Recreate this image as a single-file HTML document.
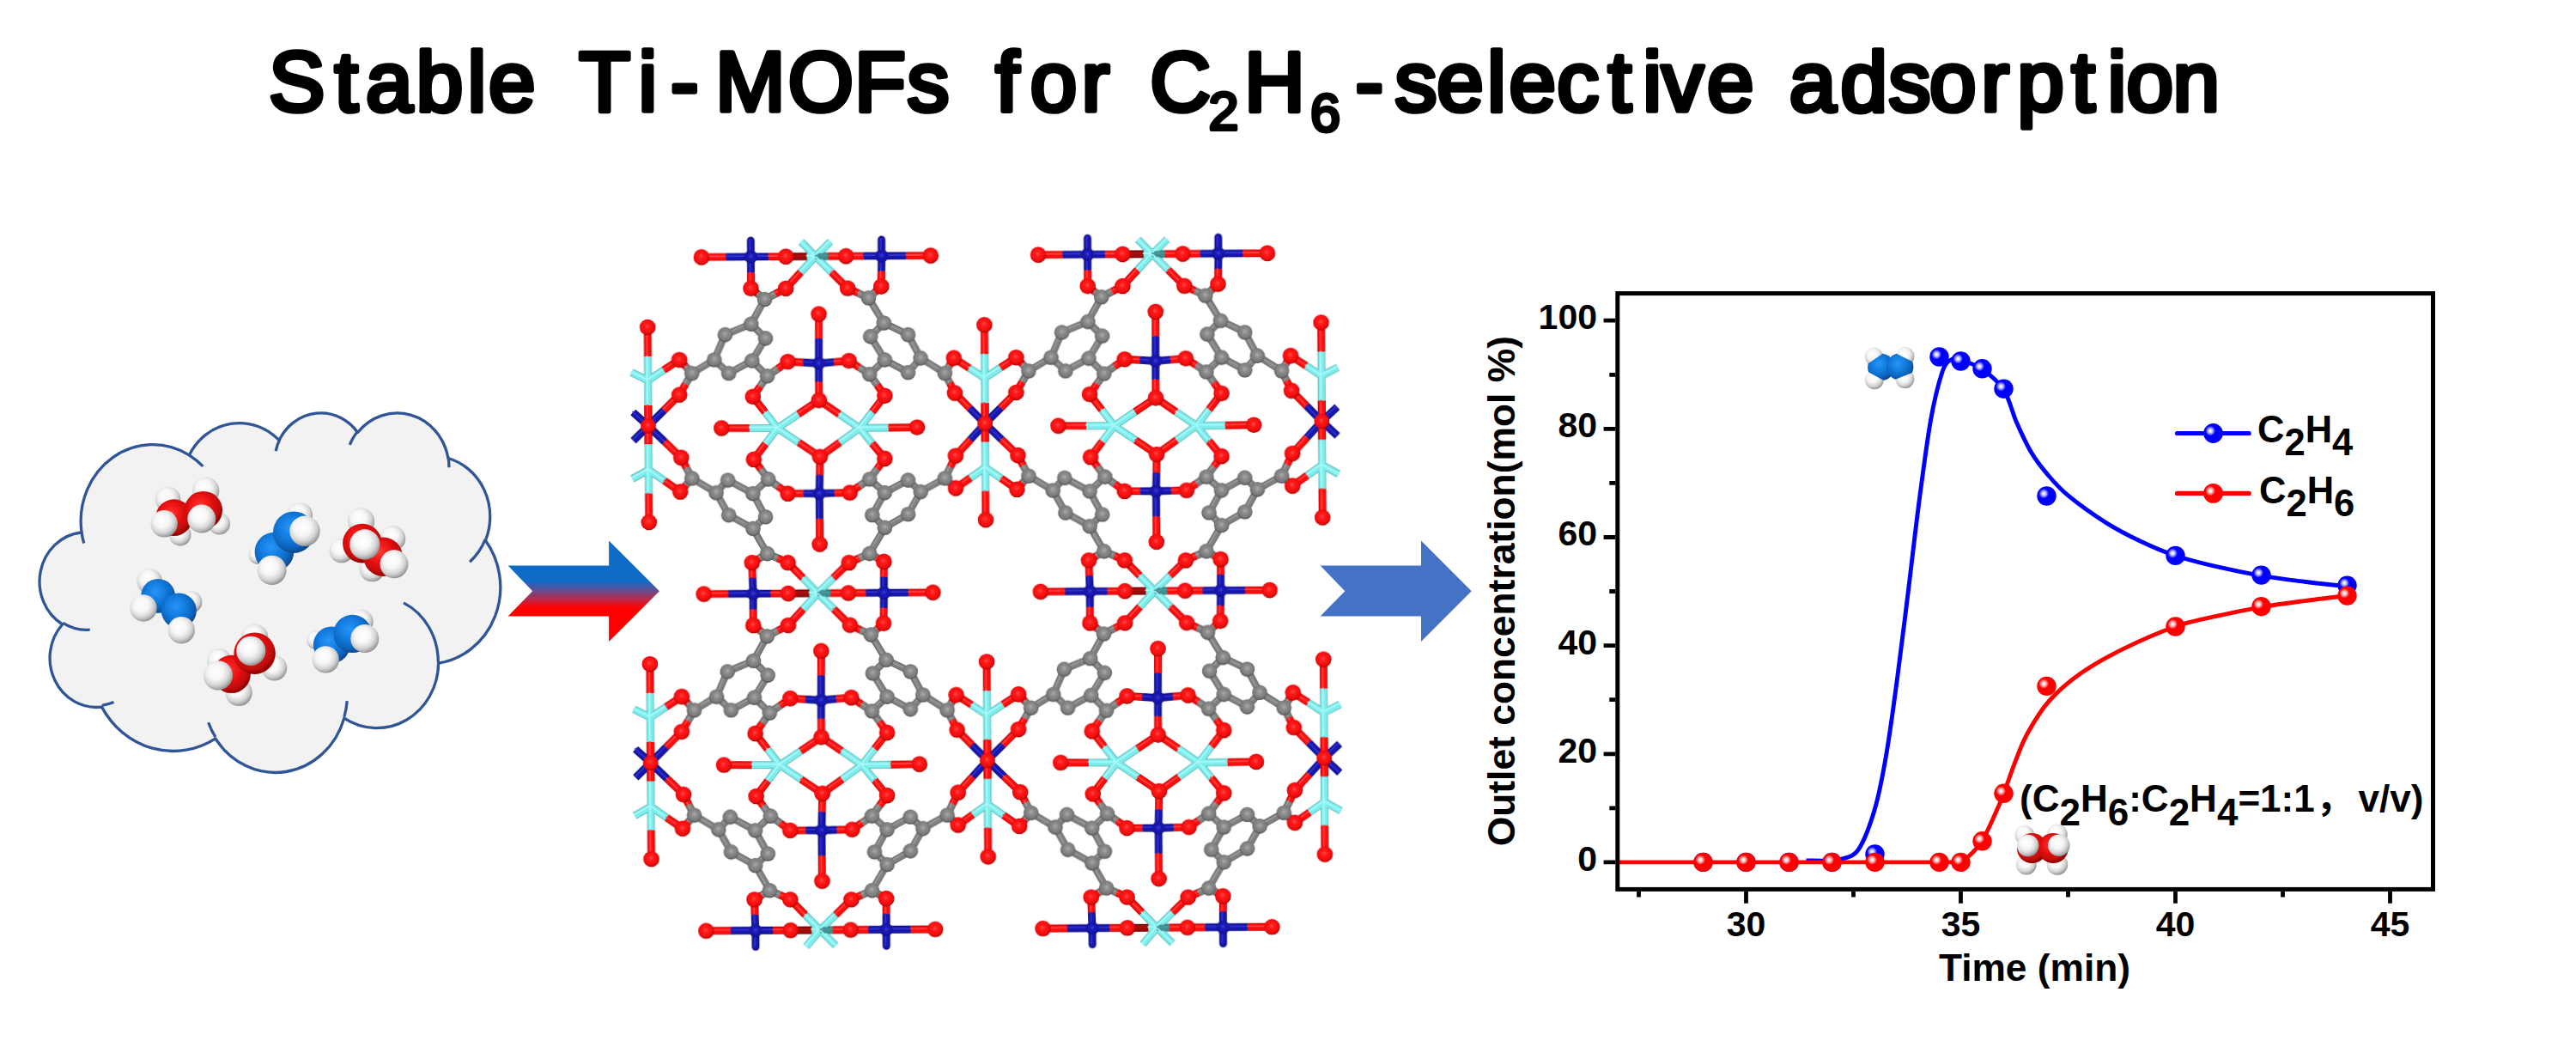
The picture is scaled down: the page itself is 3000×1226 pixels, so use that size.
<!DOCTYPE html>
<html lang="en"><head><meta charset="utf-8"><title>Stable Ti-MOFs for C2H6-selective adsorption</title>
<style>html,body{margin:0;padding:0;background:#fff}body{width:3000px;height:1226px;overflow:hidden}svg{display:block}</style>
</head><body>
<svg width="3000" height="1226" viewBox="0 0 3000 1226">
<defs><linearGradient id="garrow" gradientUnits="userSpaceOnUse" x1="0" y1="629.6" x2="0" y2="747"><stop offset="0.40" stop-color="#0f6cc6"/><stop offset="0.50" stop-color="#6b4a8c"/><stop offset="0.58" stop-color="#b82a4a"/><stop offset="0.66" stop-color="#ff0000"/></linearGradient><radialGradient id="sH" cx="0.42" cy="0.38" r="0.68"><stop offset="0" stop-color="#ffffff"/><stop offset="0.4" stop-color="#f6f6f6"/><stop offset="0.68" stop-color="#d4d4d4"/><stop offset="0.88" stop-color="#a0a0a0"/><stop offset="1" stop-color="#707070"/></radialGradient><radialGradient id="sR" cx="0.42" cy="0.38" r="0.68"><stop offset="0" stop-color="#ff3a3a"/><stop offset="0.35" stop-color="#f01414"/><stop offset="0.7" stop-color="#c60a0a"/><stop offset="1" stop-color="#7a0000"/></radialGradient><radialGradient id="sB" cx="0.42" cy="0.38" r="0.68"><stop offset="0" stop-color="#2a95f5"/><stop offset="0.35" stop-color="#1480e4"/><stop offset="0.7" stop-color="#0c66c0"/><stop offset="1" stop-color="#063c7c"/></radialGradient><radialGradient id="aO" cx="0.47" cy="0.44" r="0.58"><stop offset="0" stop-color="#ff4a4a"/><stop offset="0.3" stop-color="#ff1a1a"/><stop offset="0.72" stop-color="#f20c0c"/><stop offset="0.9" stop-color="#c40404"/><stop offset="1" stop-color="#8a0000"/></radialGradient><radialGradient id="aC" cx="0.5" cy="0.44" r="0.58"><stop offset="0" stop-color="#acacac"/><stop offset="0.3" stop-color="#8e8e8e"/><stop offset="0.72" stop-color="#7a7a7a"/><stop offset="0.9" stop-color="#5c5c5c"/><stop offset="1" stop-color="#3c3c3c"/></radialGradient><radialGradient id="aN" cx="0.5" cy="0.46" r="0.58"><stop offset="0" stop-color="#4040e0"/><stop offset="0.3" stop-color="#1c1cb8"/><stop offset="0.75" stop-color="#1414a4"/><stop offset="1" stop-color="#08086c"/></radialGradient><radialGradient id="mB" cx="0.355" cy="0.375" r="0.75"><stop offset="0" stop-color="#ffffff"/><stop offset="0.08" stop-color="#e8e8ff"/><stop offset="0.2" stop-color="#9090ff"/><stop offset="0.34" stop-color="#0000ff"/><stop offset="1" stop-color="#0000ff"/></radialGradient><radialGradient id="mR" cx="0.355" cy="0.375" r="0.75"><stop offset="0" stop-color="#ffffff"/><stop offset="0.08" stop-color="#ffe8e8"/><stop offset="0.2" stop-color="#ff9090"/><stop offset="0.34" stop-color="#ff0000"/><stop offset="1" stop-color="#ff0000"/></radialGradient><filter id="blur1" x="-2%" y="-2%" width="104%" height="104%"><feGaussianBlur stdDeviation="0.65"/></filter><filter id="blur2" x="-5%" y="-5%" width="110%" height="110%"><feGaussianBlur stdDeviation="0.7"/></filter></defs>
<rect width="3000" height="1226" fill="#fff"/>
<text font-family="'Liberation Sans',sans-serif" font-weight="400" fill="#000" stroke="#000" stroke-width="5.6" stroke-linejoin="round" stroke-linecap="round" xml:space="preserve"><tspan x="313.1 389.8 425.9 484.7 544.4 569.1" y="129.2" font-size="98">Stable </tspan><tspan x="674.3 743.4 781 832.9 917.7 995.1 1056.6" y="129.2" font-size="98">Ti-MOFs </tspan><tspan x="1159.5 1199.8 1259.4" y="129.2" font-size="98">for </tspan><tspan x="1339.3" y="129.2" font-size="98">C</tspan><tspan x="1407.6" y="151" font-size="63" stroke-width="4">2</tspan><tspan x="1449.1" y="129.2" font-size="98">H</tspan><tspan x="1526.1" y="152.5" font-size="63" stroke-width="4">6</tspan><tspan x="1578.4 1624.5 1673.3 1732 1757.6 1813.2 1872.8 1913.3 1935.1 1987.9" y="129.2" font-size="98">-selective </tspan><tspan x="2083.7 2143.6 2199.6 2247.1 2307.3 2349.2 2412.6 2454.4 2476.4 2530.4" y="129.2" font-size="98">adsorption</tspan></text>
<path d="M94.9 618.7A83.8 89.0 0 0 1 220.3 529.9A66.2 70.4 0 0 1 325.1 512.7A54.2 57.6 0 0 1 416.6 503.5A60.3 63.9 0 0 1 521.9 533.5A66.2 70.5 0 0 1 565.4 629.3A84.1 89.3 0 0 1 510.6 772.1A71.8 76.2 0 0 1 400.8 836.1A83.8 89.3 0 0 1 251.0 859.9A95.8 102.1 0 0 1 118.5 823.1A54.1 57.3 0 0 1 72.7 727.0A53.9 57.6 0 0 1 94.4 620.0Z" fill="#f2f2f2" stroke="#2f5597" stroke-width="3.3" stroke-linejoin="round"/><path d="M104.7 733.1A53.9 57.6 0 0 1 73.3 725.4M132.5 817.6A54.1 57.3 0 0 1 118.7 821.3M250.9 858.2A83.8 89.3 0 0 1 242.7 841.3M404.2 816.2A83.8 89.3 0 0 1 400.9 834.6M470.0 701.9A71.8 76.2 0 0 1 510.3 771.0M565.1 628.2A66.2 70.5 0 0 1 547.1 654.2M522.0 532.1A60.3 63.9 0 0 1 522.9 544.3M407.3 517.8A60.3 63.9 0 0 1 416.5 502.2M321.2 525.2A54.2 57.6 0 0 1 325.7 511.8M220.2 529.8A83.8 89.0 0 0 1 236.3 542.9M97.7 632.5A83.8 89.0 0 0 1 94.9 618.7" fill="none" stroke="#2f5597" stroke-width="3.3" stroke-linecap="butt"/>
<path d="M591.6 658.6L709.1 658.6L709.1 629.6L768 688.3L709.1 747L709.1 717.4L591.6 717.4L620.2 688.3Z" fill="url(#garrow)"/><path d="M1537.6 658.6L1655 658.6L1655 629.6L1713.7 688.3L1655 747L1655 717.4L1537.6 717.4L1566.3 688.3Z" fill="#4472c4"/>
<g filter="url(#blur2)"><circle cx="195.5" cy="581.3" r="14.8" fill="url(#sH)"/><circle cx="239.7" cy="571.3" r="15.7" fill="url(#sH)"/><circle cx="255.3" cy="609.8" r="12.8" fill="url(#sH)"/><circle cx="209.7" cy="622.6" r="12.8" fill="url(#sH)"/><circle cx="202.6" cy="602.7" r="21.4" fill="url(#sR)"/><circle cx="236.8" cy="594.1" r="22.2" fill="url(#sR)"/><circle cx="191.2" cy="609.8" r="15.7" fill="url(#sH)"/><circle cx="234.8" cy="604.1" r="16.5" fill="url(#sH)"/><circle cx="349.3" cy="599.8" r="14.8" fill="url(#sH)"/><circle cx="300.3" cy="646.0" r="10.8" fill="url(#sH)"/><circle cx="319.4" cy="642.5" r="22.8" fill="url(#sB)"/><circle cx="342.2" cy="619.7" r="24.2" fill="url(#sB)"/><circle cx="355.0" cy="618.3" r="17.7" fill="url(#sH)"/><circle cx="316.6" cy="663.9" r="17.1" fill="url(#sH)"/><circle cx="420.5" cy="606.9" r="15.7" fill="url(#sH)"/><circle cx="457.5" cy="626.9" r="14.8" fill="url(#sH)"/><circle cx="397.7" cy="641.1" r="14.2" fill="url(#sH)"/><circle cx="433.3" cy="662.5" r="14.8" fill="url(#sH)"/><circle cx="421.9" cy="632.6" r="22.8" fill="url(#sR)"/><circle cx="446.1" cy="648.2" r="22.8" fill="url(#sR)"/><circle cx="424.8" cy="634.0" r="17.7" fill="url(#sH)"/><circle cx="459.0" cy="656.8" r="16.5" fill="url(#sH)"/><circle cx="174.1" cy="676.7" r="14.8" fill="url(#sH)"/><circle cx="222.6" cy="700.9" r="12.8" fill="url(#sH)"/><circle cx="184.1" cy="693.8" r="19.9" fill="url(#sB)"/><circle cx="208.3" cy="710.9" r="20.5" fill="url(#sB)"/><circle cx="167.0" cy="708.0" r="15.7" fill="url(#sH)"/><circle cx="211.2" cy="733.7" r="15.7" fill="url(#sH)"/><circle cx="296.6" cy="742.2" r="15.7" fill="url(#sH)"/><circle cx="255.3" cy="769.3" r="14.2" fill="url(#sH)"/><circle cx="319.4" cy="777.8" r="14.8" fill="url(#sH)"/><circle cx="278.1" cy="806.3" r="15.7" fill="url(#sH)"/><circle cx="269.6" cy="784.9" r="22.2" fill="url(#sR)"/><circle cx="296.6" cy="760.7" r="24.2" fill="url(#sR)"/><circle cx="292.3" cy="757.9" r="17.1" fill="url(#sH)"/><circle cx="253.9" cy="786.4" r="17.1" fill="url(#sH)"/><circle cx="420.5" cy="723.7" r="14.2" fill="url(#sH)"/><circle cx="367.8" cy="745.1" r="10.8" fill="url(#sH)"/><circle cx="386.3" cy="750.8" r="21.4" fill="url(#sB)"/><circle cx="410.5" cy="737.9" r="22.2" fill="url(#sB)"/><circle cx="424.8" cy="743.6" r="16.5" fill="url(#sH)"/><circle cx="379.2" cy="767.9" r="15.7" fill="url(#sH)"/></g>
<g transform="translate(951.1 494.6) rotate(-0.4)" filter="url(#blur1)"><defs><g id="cell"><path d="M3.4 -128.9L3.2 -100.2M2.9 -50.0L2.9 -28.6M3.6 37.2L3.1 58.6M2.6 109.5L2.6 139.0M2.9 -28.6L-21.4 -12.5M3.6 37.2L-21.0 20.4M2.9 -28.6L26.5 -12.2M3.6 37.2L26.9 20.7M-78.2 3.4L-110.8 3.1M83.5 4.0L116.9 3.7M-15.0 -72.7L-33.0 -73.8M-59.8 -14.9L-74.0 -33.3M-45.0 -65.5L-33.0 -73.8M-65.5 -45.3L-74.0 -33.3M-67.5 -152.9L-75.5 -159.3M-47.1 -152.8L-34.8 -159.0M-152.1 -68.9L-159.4 -76.8M-152.3 -48.5L-159.7 -36.0M20.6 -72.9L38.1 -74.3M64.8 -14.5L79.5 -33.3M50.1 -66.4L38.1 -74.3M70.8 -45.9L79.5 -33.3M68.9 -153.9L76.3 -160.6M49.4 -153.0L37.2 -158.7M155.0 -67.8L160.3 -76.6M155.4 -47.4L161.1 -35.9M-15.7 79.9L-34.1 79.8M-59.6 21.7L-73.5 39.8M-45.5 71.3L-34.1 79.8M-65.2 51.3L-73.5 39.8M-67.5 154.8L-76.4 160.0M-46.6 154.9L-34.6 160.3M-151.9 49.2L-158.1 37.1M-152.6 69.0L-159.4 76.8M20.3 79.6L38.0 79.3M64.5 22.1L79.0 39.9M49.6 71.5L38.0 79.3M70.1 51.8L79.0 39.9M68.9 155.2L77.2 159.9M48.5 155.6L36.5 160.8M155.3 50.3L161.6 37.2M155.1 69.1L161.4 74.9" stroke="#c00000" stroke-width="8.9" stroke-linecap="butt" fill="none"/><path d="M3.2 -100.2L3.0 -71.5M3.0 -71.5L2.9 -50.0M3.1 58.6L2.6 80.0M2.6 80.0L2.6 109.5M3.0 -71.5L-15.0 -72.7M3.0 -71.5L20.6 -72.9M2.6 80.0L-15.7 79.9M2.6 80.0L20.3 79.6" stroke="#0a0a7c" stroke-width="8.9" stroke-linecap="butt" fill="none"/><path d="M-21.4 -12.5L-45.6 3.6M-21.0 20.4L-45.6 3.6M26.5 -12.2L50.1 4.2M26.9 20.7L50.1 4.2M-45.6 3.6L-78.2 3.4M50.1 4.2L83.5 4.0M-45.6 3.6L-59.8 -14.9M50.1 4.2L64.8 -14.5M-45.6 3.6L-59.6 21.7M50.1 4.2L64.5 22.1" stroke="#58b8b8" stroke-width="8.9" stroke-linecap="butt" fill="none"/><path d="M-57.1 -57.2L-45.0 -65.5M-57.1 -57.2L-65.5 -45.3M-59.5 -146.5L-67.5 -152.9M-59.5 -146.5L-47.1 -152.8M-144.9 -61.0L-152.1 -68.9M-144.9 -61.0L-152.3 -48.5M62.0 -58.5L50.1 -66.4M62.0 -58.5L70.8 -45.9M61.5 -147.3L68.9 -153.9M61.5 -147.3L49.4 -153.0M149.7 -59.0L155.0 -67.8M149.7 -59.0L155.4 -47.4M-56.9 62.9L-45.5 71.3M-56.9 62.9L-65.2 51.3M-58.5 149.6L-67.5 154.8M-58.5 149.6L-46.6 154.9M-145.7 61.3L-151.9 49.2M-145.7 61.3L-152.6 69.0M61.2 63.7L49.6 71.5M61.2 63.7L70.1 51.8M60.6 150.4L68.9 155.2M60.6 150.4L48.5 155.6M148.9 63.3L155.3 50.3M148.9 63.3L155.1 69.1" stroke="#5e5e5e" stroke-width="8.9" stroke-linecap="butt" fill="none"/><path d="M-57.1 -57.2L-65.9 -66.2M-65.9 -66.2L-74.8 -75.1M-74.8 -75.1L-66.8 -88.1M-66.8 -88.1L-58.9 -101.1M-58.9 -101.1L-67.2 -109.5M-67.2 -109.5L-75.5 -117.9M-75.5 -117.9L-90.7 -111.8M-90.7 -111.8L-105.9 -105.6M-105.9 -105.6L-112.3 -91.1M-112.3 -91.1L-118.7 -76.5M-118.7 -76.5L-110.3 -68.6M-110.3 -68.6L-102.0 -60.7M-102.0 -60.7L-88.4 -67.9M-88.4 -67.9L-74.8 -75.1M-75.5 -117.9L-67.5 -132.2M-67.5 -132.2L-59.5 -146.5M-118.7 -76.5L-131.8 -68.8M-131.8 -68.8L-144.9 -61.0M62.0 -58.5L70.9 -66.8M70.9 -66.8L79.8 -75.1M79.8 -75.1L71.6 -88.8M71.6 -88.8L63.3 -102.4M63.3 -102.4L71.2 -110.2M71.2 -110.2L79.1 -118.0M79.1 -118.0L93.2 -111.1M93.2 -111.1L107.2 -104.2M107.2 -104.2L114.4 -90.5M114.4 -90.5L121.6 -76.9M121.6 -76.9L114.3 -68.6M114.3 -68.6L106.9 -60.3M106.9 -60.3L93.4 -67.7M93.4 -67.7L79.8 -75.1M79.1 -118.0L70.3 -132.6M70.3 -132.6L61.5 -147.3M121.6 -76.9L135.7 -67.9M135.7 -67.9L149.7 -59.0M-56.9 62.9L-65.8 71.2M-65.8 71.2L-74.8 79.5M-74.8 79.5L-67.6 93.1M-67.6 93.1L-60.3 106.8M-60.3 106.8L-67.7 113.5M-67.7 113.5L-75.0 120.3M-75.0 120.3L-89.1 112.3M-89.1 112.3L-103.1 104.4M-103.1 104.4L-110.4 91.3M-110.4 91.3L-117.6 78.2M-117.6 78.2L-110.8 70.9M-110.8 70.9L-103.9 63.7M-103.9 63.7L-89.4 71.6M-89.4 71.6L-74.8 79.5M-75.0 120.3L-66.8 134.9M-66.8 134.9L-58.5 149.6M-117.6 78.2L-131.7 69.7M-131.7 69.7L-145.7 61.3M61.2 63.7L70.0 71.6M70.0 71.6L78.7 79.6M78.7 79.6L71.4 92.6M71.4 92.6L64.0 105.5M64.0 105.5L71.2 112.9M71.2 112.9L78.5 120.3M78.5 120.3L92.1 112.5M92.1 112.5L105.8 104.7M105.8 104.7L113.2 91.7M113.2 91.7L120.6 78.7M120.6 78.7L113.3 71.9M113.3 71.9L106.0 65.1M106.0 65.1L92.4 72.3M92.4 72.3L78.7 79.6M78.5 120.3L69.5 135.3M69.5 135.3L60.6 150.4M120.6 78.7L134.7 71.0M134.7 71.0L148.9 63.3" stroke="#5e5e5e" stroke-width="8.2" stroke-linecap="butt" fill="none"/><path d="M3.4 -128.9L3.2 -100.2M2.9 -50.0L2.9 -28.6M3.6 37.2L3.1 58.6M2.6 109.5L2.6 139.0M2.9 -28.6L-21.4 -12.5M3.6 37.2L-21.0 20.4M2.9 -28.6L26.5 -12.2M3.6 37.2L26.9 20.7M-78.2 3.4L-110.8 3.1M83.5 4.0L116.9 3.7M-15.0 -72.7L-33.0 -73.8M-59.8 -14.9L-74.0 -33.3M-45.0 -65.5L-33.0 -73.8M-65.5 -45.3L-74.0 -33.3M-67.5 -152.9L-75.5 -159.3M-47.1 -152.8L-34.8 -159.0M-152.1 -68.9L-159.4 -76.8M-152.3 -48.5L-159.7 -36.0M20.6 -72.9L38.1 -74.3M64.8 -14.5L79.5 -33.3M50.1 -66.4L38.1 -74.3M70.8 -45.9L79.5 -33.3M68.9 -153.9L76.3 -160.6M49.4 -153.0L37.2 -158.7M155.0 -67.8L160.3 -76.6M155.4 -47.4L161.1 -35.9M-15.7 79.9L-34.1 79.8M-59.6 21.7L-73.5 39.8M-45.5 71.3L-34.1 79.8M-65.2 51.3L-73.5 39.8M-67.5 154.8L-76.4 160.0M-46.6 154.9L-34.6 160.3M-151.9 49.2L-158.1 37.1M-152.6 69.0L-159.4 76.8M20.3 79.6L38.0 79.3M64.5 22.1L79.0 39.9M49.6 71.5L38.0 79.3M70.1 51.8L79.0 39.9M68.9 155.2L77.2 159.9M48.5 155.6L36.5 160.8M155.3 50.3L161.6 37.2M155.1 69.1L161.4 74.9" stroke="#ff0d0d" stroke-width="7.1" stroke-linecap="butt" fill="none"/><path d="M3.2 -100.2L3.0 -71.5M3.0 -71.5L2.9 -50.0M3.1 58.6L2.6 80.0M2.6 80.0L2.6 109.5M3.0 -71.5L-15.0 -72.7M3.0 -71.5L20.6 -72.9M2.6 80.0L-15.7 79.9M2.6 80.0L20.3 79.6" stroke="#1616ac" stroke-width="7.1" stroke-linecap="butt" fill="none"/><path d="M-21.4 -12.5L-45.6 3.6M-21.0 20.4L-45.6 3.6M26.5 -12.2L50.1 4.2M26.9 20.7L50.1 4.2M-45.6 3.6L-78.2 3.4M50.1 4.2L83.5 4.0M-45.6 3.6L-59.8 -14.9M50.1 4.2L64.8 -14.5M-45.6 3.6L-59.6 21.7M50.1 4.2L64.5 22.1" stroke="#7fecec" stroke-width="7.1" stroke-linecap="butt" fill="none"/><path d="M-57.1 -57.2L-45.0 -65.5M-57.1 -57.2L-65.5 -45.3M-59.5 -146.5L-67.5 -152.9M-59.5 -146.5L-47.1 -152.8M-144.9 -61.0L-152.1 -68.9M-144.9 -61.0L-152.3 -48.5M62.0 -58.5L50.1 -66.4M62.0 -58.5L70.8 -45.9M61.5 -147.3L68.9 -153.9M61.5 -147.3L49.4 -153.0M149.7 -59.0L155.0 -67.8M149.7 -59.0L155.4 -47.4M-56.9 62.9L-45.5 71.3M-56.9 62.9L-65.2 51.3M-58.5 149.6L-67.5 154.8M-58.5 149.6L-46.6 154.9M-145.7 61.3L-151.9 49.2M-145.7 61.3L-152.6 69.0M61.2 63.7L49.6 71.5M61.2 63.7L70.1 51.8M60.6 150.4L68.9 155.2M60.6 150.4L48.5 155.6M148.9 63.3L155.3 50.3M148.9 63.3L155.1 69.1" stroke="#808080" stroke-width="7.1" stroke-linecap="butt" fill="none"/><path d="M-57.1 -57.2L-65.9 -66.2M-65.9 -66.2L-74.8 -75.1M-74.8 -75.1L-66.8 -88.1M-66.8 -88.1L-58.9 -101.1M-58.9 -101.1L-67.2 -109.5M-67.2 -109.5L-75.5 -117.9M-75.5 -117.9L-90.7 -111.8M-90.7 -111.8L-105.9 -105.6M-105.9 -105.6L-112.3 -91.1M-112.3 -91.1L-118.7 -76.5M-118.7 -76.5L-110.3 -68.6M-110.3 -68.6L-102.0 -60.7M-102.0 -60.7L-88.4 -67.9M-88.4 -67.9L-74.8 -75.1M-75.5 -117.9L-67.5 -132.2M-67.5 -132.2L-59.5 -146.5M-118.7 -76.5L-131.8 -68.8M-131.8 -68.8L-144.9 -61.0M62.0 -58.5L70.9 -66.8M70.9 -66.8L79.8 -75.1M79.8 -75.1L71.6 -88.8M71.6 -88.8L63.3 -102.4M63.3 -102.4L71.2 -110.2M71.2 -110.2L79.1 -118.0M79.1 -118.0L93.2 -111.1M93.2 -111.1L107.2 -104.2M107.2 -104.2L114.4 -90.5M114.4 -90.5L121.6 -76.9M121.6 -76.9L114.3 -68.6M114.3 -68.6L106.9 -60.3M106.9 -60.3L93.4 -67.7M93.4 -67.7L79.8 -75.1M79.1 -118.0L70.3 -132.6M70.3 -132.6L61.5 -147.3M121.6 -76.9L135.7 -67.9M135.7 -67.9L149.7 -59.0M-56.9 62.9L-65.8 71.2M-65.8 71.2L-74.8 79.5M-74.8 79.5L-67.6 93.1M-67.6 93.1L-60.3 106.8M-60.3 106.8L-67.7 113.5M-67.7 113.5L-75.0 120.3M-75.0 120.3L-89.1 112.3M-89.1 112.3L-103.1 104.4M-103.1 104.4L-110.4 91.3M-110.4 91.3L-117.6 78.2M-117.6 78.2L-110.8 70.9M-110.8 70.9L-103.9 63.7M-103.9 63.7L-89.4 71.6M-89.4 71.6L-74.8 79.5M-75.0 120.3L-66.8 134.9M-66.8 134.9L-58.5 149.6M-117.6 78.2L-131.7 69.7M-131.7 69.7L-145.7 61.3M61.2 63.7L70.0 71.6M70.0 71.6L78.7 79.6M78.7 79.6L71.4 92.6M71.4 92.6L64.0 105.5M64.0 105.5L71.2 112.9M71.2 112.9L78.5 120.3M78.5 120.3L92.1 112.5M92.1 112.5L105.8 104.7M105.8 104.7L113.2 91.7M113.2 91.7L120.6 78.7M120.6 78.7L113.3 71.9M113.3 71.9L106.0 65.1M106.0 65.1L92.4 72.3M92.4 72.3L78.7 79.6M78.5 120.3L69.5 135.3M69.5 135.3L60.6 150.4M120.6 78.7L134.7 71.0M134.7 71.0L148.9 63.3" stroke="#808080" stroke-width="6.6" stroke-linecap="butt" fill="none"/><path d="M3.4 -128.9L3.2 -100.2M2.9 -50.0L2.9 -28.6M3.6 37.2L3.1 58.6M2.6 109.5L2.6 139.0M2.9 -28.6L-21.4 -12.5M3.6 37.2L-21.0 20.4M2.9 -28.6L26.5 -12.2M3.6 37.2L26.9 20.7M-78.2 3.4L-110.8 3.1M83.5 4.0L116.9 3.7M-15.0 -72.7L-33.0 -73.8M-59.8 -14.9L-74.0 -33.3M-45.0 -65.5L-33.0 -73.8M-65.5 -45.3L-74.0 -33.3M-67.5 -152.9L-75.5 -159.3M-47.1 -152.8L-34.8 -159.0M-152.1 -68.9L-159.4 -76.8M-152.3 -48.5L-159.7 -36.0M20.6 -72.9L38.1 -74.3M64.8 -14.5L79.5 -33.3M50.1 -66.4L38.1 -74.3M70.8 -45.9L79.5 -33.3M68.9 -153.9L76.3 -160.6M49.4 -153.0L37.2 -158.7M155.0 -67.8L160.3 -76.6M155.4 -47.4L161.1 -35.9M-15.7 79.9L-34.1 79.8M-59.6 21.7L-73.5 39.8M-45.5 71.3L-34.1 79.8M-65.2 51.3L-73.5 39.8M-67.5 154.8L-76.4 160.0M-46.6 154.9L-34.6 160.3M-151.9 49.2L-158.1 37.1M-152.6 69.0L-159.4 76.8M20.3 79.6L38.0 79.3M64.5 22.1L79.0 39.9M49.6 71.5L38.0 79.3M70.1 51.8L79.0 39.9M68.9 155.2L77.2 159.9M48.5 155.6L36.5 160.8M155.3 50.3L161.6 37.2M155.1 69.1L161.4 74.9" stroke="#ff4040" stroke-width="1.8" stroke-linecap="butt" fill="none" transform="translate(-0.9 -0.9)"/><path d="M3.2 -100.2L3.0 -71.5M3.0 -71.5L2.9 -50.0M3.1 58.6L2.6 80.0M2.6 80.0L2.6 109.5M3.0 -71.5L-15.0 -72.7M3.0 -71.5L20.6 -72.9M2.6 80.0L-15.7 79.9M2.6 80.0L20.3 79.6" stroke="#3030cc" stroke-width="1.8" stroke-linecap="butt" fill="none" transform="translate(-0.9 -0.9)"/><path d="M-21.4 -12.5L-45.6 3.6M-21.0 20.4L-45.6 3.6M26.5 -12.2L50.1 4.2M26.9 20.7L50.1 4.2M-45.6 3.6L-78.2 3.4M50.1 4.2L83.5 4.0M-45.6 3.6L-59.8 -14.9M50.1 4.2L64.8 -14.5M-45.6 3.6L-59.6 21.7M50.1 4.2L64.5 22.1" stroke="#a8fafa" stroke-width="1.8" stroke-linecap="butt" fill="none" transform="translate(-0.9 -0.9)"/><path d="M-57.1 -57.2L-45.0 -65.5M-57.1 -57.2L-65.5 -45.3M-59.5 -146.5L-67.5 -152.9M-59.5 -146.5L-47.1 -152.8M-144.9 -61.0L-152.1 -68.9M-144.9 -61.0L-152.3 -48.5M62.0 -58.5L50.1 -66.4M62.0 -58.5L70.8 -45.9M61.5 -147.3L68.9 -153.9M61.5 -147.3L49.4 -153.0M149.7 -59.0L155.0 -67.8M149.7 -59.0L155.4 -47.4M-56.9 62.9L-45.5 71.3M-56.9 62.9L-65.2 51.3M-58.5 149.6L-67.5 154.8M-58.5 149.6L-46.6 154.9M-145.7 61.3L-151.9 49.2M-145.7 61.3L-152.6 69.0M61.2 63.7L49.6 71.5M61.2 63.7L70.1 51.8M60.6 150.4L68.9 155.2M60.6 150.4L48.5 155.6M148.9 63.3L155.3 50.3M148.9 63.3L155.1 69.1" stroke="#9a9a9a" stroke-width="1.8" stroke-linecap="butt" fill="none" transform="translate(-0.9 -0.9)"/><path d="M-57.1 -57.2L-65.9 -66.2M-65.9 -66.2L-74.8 -75.1M-74.8 -75.1L-66.8 -88.1M-66.8 -88.1L-58.9 -101.1M-58.9 -101.1L-67.2 -109.5M-67.2 -109.5L-75.5 -117.9M-75.5 -117.9L-90.7 -111.8M-90.7 -111.8L-105.9 -105.6M-105.9 -105.6L-112.3 -91.1M-112.3 -91.1L-118.7 -76.5M-118.7 -76.5L-110.3 -68.6M-110.3 -68.6L-102.0 -60.7M-102.0 -60.7L-88.4 -67.9M-88.4 -67.9L-74.8 -75.1M-75.5 -117.9L-67.5 -132.2M-67.5 -132.2L-59.5 -146.5M-118.7 -76.5L-131.8 -68.8M-131.8 -68.8L-144.9 -61.0M62.0 -58.5L70.9 -66.8M70.9 -66.8L79.8 -75.1M79.8 -75.1L71.6 -88.8M71.6 -88.8L63.3 -102.4M63.3 -102.4L71.2 -110.2M71.2 -110.2L79.1 -118.0M79.1 -118.0L93.2 -111.1M93.2 -111.1L107.2 -104.2M107.2 -104.2L114.4 -90.5M114.4 -90.5L121.6 -76.9M121.6 -76.9L114.3 -68.6M114.3 -68.6L106.9 -60.3M106.9 -60.3L93.4 -67.7M93.4 -67.7L79.8 -75.1M79.1 -118.0L70.3 -132.6M70.3 -132.6L61.5 -147.3M121.6 -76.9L135.7 -67.9M135.7 -67.9L149.7 -59.0M-56.9 62.9L-65.8 71.2M-65.8 71.2L-74.8 79.5M-74.8 79.5L-67.6 93.1M-67.6 93.1L-60.3 106.8M-60.3 106.8L-67.7 113.5M-67.7 113.5L-75.0 120.3M-75.0 120.3L-89.1 112.3M-89.1 112.3L-103.1 104.4M-103.1 104.4L-110.4 91.3M-110.4 91.3L-117.6 78.2M-117.6 78.2L-110.8 70.9M-110.8 70.9L-103.9 63.7M-103.9 63.7L-89.4 71.6M-89.4 71.6L-74.8 79.5M-75.0 120.3L-66.8 134.9M-66.8 134.9L-58.5 149.6M-117.6 78.2L-131.7 69.7M-131.7 69.7L-145.7 61.3M61.2 63.7L70.0 71.6M70.0 71.6L78.7 79.6M78.7 79.6L71.4 92.6M71.4 92.6L64.0 105.5M64.0 105.5L71.2 112.9M71.2 112.9L78.5 120.3M78.5 120.3L92.1 112.5M92.1 112.5L105.8 104.7M105.8 104.7L113.2 91.7M113.2 91.7L120.6 78.7M120.6 78.7L113.3 71.9M113.3 71.9L106.0 65.1M106.0 65.1L92.4 72.3M92.4 72.3L78.7 79.6M78.5 120.3L69.5 135.3M69.5 135.3L60.6 150.4M120.6 78.7L134.7 71.0M134.7 71.0L148.9 63.3" stroke="#9a9a9a" stroke-width="1.6" stroke-linecap="butt" fill="none" transform="translate(-0.9 -0.9)"/><circle cx="3.4" cy="-128.9" r="9.3" fill="url(#aO)"/><circle cx="2.9" cy="-28.6" r="9.3" fill="url(#aO)"/><circle cx="-110.8" cy="3.1" r="9.3" fill="url(#aO)"/><circle cx="116.9" cy="3.7" r="9.3" fill="url(#aO)"/><circle cx="3.6" cy="37.2" r="9.3" fill="url(#aO)"/><circle cx="2.6" cy="139.0" r="9.3" fill="url(#aO)"/><circle cx="3.0" cy="-71.5" r="7.6" fill="url(#aN)"/><circle cx="2.6" cy="80.0" r="7.6" fill="url(#aN)"/><circle cx="-33.0" cy="-73.8" r="9.3" fill="url(#aO)"/><circle cx="-74.0" cy="-33.3" r="9.3" fill="url(#aO)"/><circle cx="-75.5" cy="-159.3" r="9.3" fill="url(#aO)"/><circle cx="-34.8" cy="-159.0" r="9.3" fill="url(#aO)"/><circle cx="-159.4" cy="-76.8" r="9.3" fill="url(#aO)"/><circle cx="-159.7" cy="-36.0" r="9.3" fill="url(#aO)"/><circle cx="-57.1" cy="-57.2" r="8.8" fill="url(#aC)"/><circle cx="-59.5" cy="-146.5" r="8.8" fill="url(#aC)"/><circle cx="-144.9" cy="-61.0" r="8.8" fill="url(#aC)"/><circle cx="-74.8" cy="-75.1" r="8.8" fill="url(#aC)"/><circle cx="-58.9" cy="-101.1" r="8.8" fill="url(#aC)"/><circle cx="-75.5" cy="-117.9" r="8.8" fill="url(#aC)"/><circle cx="-105.9" cy="-105.6" r="8.8" fill="url(#aC)"/><circle cx="-118.7" cy="-76.5" r="8.8" fill="url(#aC)"/><circle cx="-102.0" cy="-60.7" r="8.8" fill="url(#aC)"/><circle cx="38.1" cy="-74.3" r="9.3" fill="url(#aO)"/><circle cx="79.5" cy="-33.3" r="9.3" fill="url(#aO)"/><circle cx="76.3" cy="-160.6" r="9.3" fill="url(#aO)"/><circle cx="37.2" cy="-158.7" r="9.3" fill="url(#aO)"/><circle cx="160.3" cy="-76.6" r="9.3" fill="url(#aO)"/><circle cx="161.1" cy="-35.9" r="9.3" fill="url(#aO)"/><circle cx="62.0" cy="-58.5" r="8.8" fill="url(#aC)"/><circle cx="61.5" cy="-147.3" r="8.8" fill="url(#aC)"/><circle cx="149.7" cy="-59.0" r="8.8" fill="url(#aC)"/><circle cx="79.8" cy="-75.1" r="8.8" fill="url(#aC)"/><circle cx="63.3" cy="-102.4" r="8.8" fill="url(#aC)"/><circle cx="79.1" cy="-118.0" r="8.8" fill="url(#aC)"/><circle cx="107.2" cy="-104.2" r="8.8" fill="url(#aC)"/><circle cx="121.6" cy="-76.9" r="8.8" fill="url(#aC)"/><circle cx="106.9" cy="-60.3" r="8.8" fill="url(#aC)"/><circle cx="-34.1" cy="79.8" r="9.3" fill="url(#aO)"/><circle cx="-73.5" cy="39.8" r="9.3" fill="url(#aO)"/><circle cx="-76.4" cy="160.0" r="9.3" fill="url(#aO)"/><circle cx="-34.6" cy="160.3" r="9.3" fill="url(#aO)"/><circle cx="-158.1" cy="37.1" r="9.3" fill="url(#aO)"/><circle cx="-159.4" cy="76.8" r="9.3" fill="url(#aO)"/><circle cx="-56.9" cy="62.9" r="8.8" fill="url(#aC)"/><circle cx="-58.5" cy="149.6" r="8.8" fill="url(#aC)"/><circle cx="-145.7" cy="61.3" r="8.8" fill="url(#aC)"/><circle cx="-74.8" cy="79.5" r="8.8" fill="url(#aC)"/><circle cx="-60.3" cy="106.8" r="8.8" fill="url(#aC)"/><circle cx="-75.0" cy="120.3" r="8.8" fill="url(#aC)"/><circle cx="-103.1" cy="104.4" r="8.8" fill="url(#aC)"/><circle cx="-117.6" cy="78.2" r="8.8" fill="url(#aC)"/><circle cx="-103.9" cy="63.7" r="8.8" fill="url(#aC)"/><circle cx="38.0" cy="79.3" r="9.3" fill="url(#aO)"/><circle cx="79.0" cy="39.9" r="9.3" fill="url(#aO)"/><circle cx="77.2" cy="159.9" r="9.3" fill="url(#aO)"/><circle cx="36.5" cy="160.8" r="9.3" fill="url(#aO)"/><circle cx="161.6" cy="37.2" r="9.3" fill="url(#aO)"/><circle cx="161.4" cy="74.9" r="9.3" fill="url(#aO)"/><circle cx="61.2" cy="63.7" r="8.8" fill="url(#aC)"/><circle cx="60.6" cy="150.4" r="8.8" fill="url(#aC)"/><circle cx="148.9" cy="63.3" r="8.8" fill="url(#aC)"/><circle cx="78.7" cy="79.6" r="8.8" fill="url(#aC)"/><circle cx="64.0" cy="105.5" r="8.8" fill="url(#aC)"/><circle cx="78.5" cy="120.3" r="8.8" fill="url(#aC)"/><circle cx="105.8" cy="104.7" r="8.8" fill="url(#aC)"/><circle cx="120.6" cy="78.7" r="8.8" fill="url(#aC)"/><circle cx="106.0" cy="65.1" r="8.8" fill="url(#aC)"/></g><g id="hn"><path d="M-132.8 0.0L-104.1 0.0M-54.9 0.0L-34.5 0.0M134.0 0.0L105.5 0.0M56.2 0.0L35.5 0.0M35.5 0.0L14.5 0.0M-75.9 -18.1L-76.4 -36.1M77.1 -18.1L77.2 -36.2M-75.4 18.4L-75.5 36.8M76.7 17.8L76.3 35.5" stroke="#c00000" stroke-width="8.9" stroke-linecap="butt" fill="none"/><path d="M-104.1 0.0L-75.3 0.0M-75.3 0.0L-54.9 0.0M105.5 0.0L77.0 0.0M77.0 0.0L56.2 0.0M-75.3 0.0L-75.9 -18.1M77.0 0.0L77.1 -18.1M-75.3 0.0L-75.4 18.4M77.0 0.0L76.7 17.8" stroke="#0a0a7c" stroke-width="8.9" stroke-linecap="butt" fill="none"/><path d="M-34.5 0.0L-10.0 0.0" stroke="#600000" stroke-width="8.9" stroke-linecap="butt" fill="none"/><path d="M-132.8 0.0L-104.1 0.0M-54.9 0.0L-34.5 0.0M134.0 0.0L105.5 0.0M56.2 0.0L35.5 0.0M35.5 0.0L14.5 0.0M-75.9 -18.1L-76.4 -36.1M77.1 -18.1L77.2 -36.2M-75.4 18.4L-75.5 36.8M76.7 17.8L76.3 35.5" stroke="#ff0d0d" stroke-width="7.1" stroke-linecap="butt" fill="none"/><path d="M-104.1 0.0L-75.3 0.0M-75.3 0.0L-54.9 0.0M105.5 0.0L77.0 0.0M77.0 0.0L56.2 0.0M-75.3 0.0L-75.9 -18.1M77.0 0.0L77.1 -18.1M-75.3 0.0L-75.4 18.4M77.0 0.0L76.7 17.8" stroke="#1616ac" stroke-width="7.1" stroke-linecap="butt" fill="none"/><path d="M-34.5 0.0L-10.0 0.0" stroke="#9a0808" stroke-width="7.1" stroke-linecap="butt" fill="none"/><path d="M-132.8 0.0L-104.1 0.0M-54.9 0.0L-34.5 0.0M134.0 0.0L105.5 0.0M56.2 0.0L35.5 0.0M35.5 0.0L14.5 0.0M-75.9 -18.1L-76.4 -36.1M77.1 -18.1L77.2 -36.2M-75.4 18.4L-75.5 36.8M76.7 17.8L76.3 35.5" stroke="#ff4040" stroke-width="1.8" stroke-linecap="butt" fill="none" transform="translate(-0.9 -0.9)"/><path d="M-104.1 0.0L-75.3 0.0M-75.3 0.0L-54.9 0.0M105.5 0.0L77.0 0.0M77.0 0.0L56.2 0.0M-75.3 0.0L-75.9 -18.1M77.0 0.0L77.1 -18.1M-75.3 0.0L-75.4 18.4M77.0 0.0L76.7 17.8" stroke="#3030cc" stroke-width="1.8" stroke-linecap="butt" fill="none" transform="translate(-0.9 -0.9)"/><path d="M-34.5 0.0L-10.0 0.0" stroke="#b01010" stroke-width="1.8" stroke-linecap="butt" fill="none" transform="translate(-0.9 -0.9)"/><circle cx="-132.8" cy="0.0" r="9.3" fill="url(#aO)"/><circle cx="134.0" cy="0.0" r="9.3" fill="url(#aO)"/><circle cx="-34.5" cy="0.0" r="9.3" fill="url(#aO)"/><circle cx="35.5" cy="0.0" r="9.3" fill="url(#aO)"/><circle cx="-75.3" cy="0.0" r="7.6" fill="url(#aN)"/><circle cx="77.0" cy="0.0" r="7.6" fill="url(#aN)"/><path d="M0.0 0.0L-17.3 -17.9M0.0 0.0L18.2 -17.7M0.0 0.0L-17.4 18.5M0.0 0.0L18.6 18.7M-10.0 0.0L0.0 0.0" stroke="#58b8b8" stroke-width="8.9" stroke-linecap="butt" fill="none"/><path d="M-17.3 -17.9L-34.6 -35.8M18.2 -17.7L36.5 -35.3M-17.4 18.5L-34.8 37.1M18.6 18.7L37.2 37.4" stroke="#c00000" stroke-width="8.9" stroke-linecap="butt" fill="none"/><path d="M14.5 0.0L0.0 0.0" stroke="#2c6a6a" stroke-width="8.9" stroke-linecap="butt" fill="none"/><path d="M0.0 0.0L-17.3 -17.9M0.0 0.0L18.2 -17.7M0.0 0.0L-17.4 18.5M0.0 0.0L18.6 18.7M-10.0 0.0L0.0 0.0" stroke="#7fecec" stroke-width="7.1" stroke-linecap="butt" fill="none"/><path d="M-17.3 -17.9L-34.6 -35.8M18.2 -17.7L36.5 -35.3M-17.4 18.5L-34.8 37.1M18.6 18.7L37.2 37.4" stroke="#ff0d0d" stroke-width="7.1" stroke-linecap="butt" fill="none"/><path d="M14.5 0.0L0.0 0.0" stroke="#3f8c8c" stroke-width="7.1" stroke-linecap="butt" fill="none"/><path d="M0.0 0.0L-17.3 -17.9M0.0 0.0L18.2 -17.7M0.0 0.0L-17.4 18.5M0.0 0.0L18.6 18.7M-10.0 0.0L0.0 0.0" stroke="#a8fafa" stroke-width="1.8" stroke-linecap="butt" fill="none" transform="translate(-0.9 -0.9)"/><path d="M-17.3 -17.9L-34.6 -35.8M18.2 -17.7L36.5 -35.3M-17.4 18.5L-34.8 37.1M18.6 18.7L37.2 37.4" stroke="#ff4040" stroke-width="1.8" stroke-linecap="butt" fill="none" transform="translate(-0.9 -0.9)"/><path d="M14.5 0.0L0.0 0.0" stroke="#4a9a9a" stroke-width="1.8" stroke-linecap="butt" fill="none" transform="translate(-0.9 -0.9)"/></g><g id="hnT"><path d="M-132.8 0.0L-104.1 0.0M-54.9 0.0L-34.5 0.0M134.0 0.0L105.5 0.0M56.2 0.0L35.5 0.0M35.5 0.0L14.5 0.0M-75.4 18.4L-75.5 36.8M76.7 17.8L76.3 35.5" stroke="#c00000" stroke-width="8.9" stroke-linecap="butt" fill="none"/><path d="M-104.1 0.0L-75.3 0.0M-75.3 0.0L-54.9 0.0M105.5 0.0L77.0 0.0M77.0 0.0L56.2 0.0M-75.3 0.0L-75.4 18.4M77.0 0.0L76.7 17.8" stroke="#0a0a7c" stroke-width="8.9" stroke-linecap="butt" fill="none"/><path d="M-34.5 0.0L-10.0 0.0" stroke="#600000" stroke-width="8.9" stroke-linecap="butt" fill="none"/><path d="M-75.3 0.0L-75.3 -19.0M77.0 0.0L77.0 -19.0" stroke="#0a0a7c" stroke-width="8.9" stroke-linecap="round" fill="none"/><path d="M-132.8 0.0L-104.1 0.0M-54.9 0.0L-34.5 0.0M134.0 0.0L105.5 0.0M56.2 0.0L35.5 0.0M35.5 0.0L14.5 0.0M-75.4 18.4L-75.5 36.8M76.7 17.8L76.3 35.5" stroke="#ff0d0d" stroke-width="7.1" stroke-linecap="butt" fill="none"/><path d="M-104.1 0.0L-75.3 0.0M-75.3 0.0L-54.9 0.0M105.5 0.0L77.0 0.0M77.0 0.0L56.2 0.0M-75.3 0.0L-75.4 18.4M77.0 0.0L76.7 17.8" stroke="#1616ac" stroke-width="7.1" stroke-linecap="butt" fill="none"/><path d="M-34.5 0.0L-10.0 0.0" stroke="#9a0808" stroke-width="7.1" stroke-linecap="butt" fill="none"/><path d="M-75.3 0.0L-75.3 -19.0M77.0 0.0L77.0 -19.0" stroke="#1616ac" stroke-width="7.1" stroke-linecap="round" fill="none"/><path d="M-132.8 0.0L-104.1 0.0M-54.9 0.0L-34.5 0.0M134.0 0.0L105.5 0.0M56.2 0.0L35.5 0.0M35.5 0.0L14.5 0.0M-75.4 18.4L-75.5 36.8M76.7 17.8L76.3 35.5" stroke="#ff4040" stroke-width="1.8" stroke-linecap="butt" fill="none" transform="translate(-0.9 -0.9)"/><path d="M-104.1 0.0L-75.3 0.0M-75.3 0.0L-54.9 0.0M105.5 0.0L77.0 0.0M77.0 0.0L56.2 0.0M-75.3 0.0L-75.4 18.4M77.0 0.0L76.7 17.8" stroke="#3030cc" stroke-width="1.8" stroke-linecap="butt" fill="none" transform="translate(-0.9 -0.9)"/><path d="M-34.5 0.0L-10.0 0.0" stroke="#b01010" stroke-width="1.8" stroke-linecap="butt" fill="none" transform="translate(-0.9 -0.9)"/><path d="M-75.3 0.0L-75.3 -19.0M77.0 0.0L77.0 -19.0" stroke="#3030cc" stroke-width="1.8" stroke-linecap="round" fill="none" transform="translate(-0.9 -0.9)"/><circle cx="-132.8" cy="0.0" r="9.3" fill="url(#aO)"/><circle cx="134.0" cy="0.0" r="9.3" fill="url(#aO)"/><circle cx="-34.5" cy="0.0" r="9.3" fill="url(#aO)"/><circle cx="35.5" cy="0.0" r="9.3" fill="url(#aO)"/><circle cx="-75.3" cy="0.0" r="7.6" fill="url(#aN)"/><circle cx="77.0" cy="0.0" r="7.6" fill="url(#aN)"/><path d="M0.0 0.0L-16.5 -17.0M0.0 0.0L17.5 -17.0M0.0 0.0L-17.4 18.5M0.0 0.0L18.6 18.7M-10.0 0.0L0.0 0.0" stroke="#58b8b8" stroke-width="8.9" stroke-linecap="butt" fill="none"/><path d="M-17.4 18.5L-34.8 37.1M18.6 18.7L37.2 37.4" stroke="#c00000" stroke-width="8.9" stroke-linecap="butt" fill="none"/><path d="M14.5 0.0L0.0 0.0" stroke="#2c6a6a" stroke-width="8.9" stroke-linecap="butt" fill="none"/><path d="M0.0 0.0L-16.5 -17.0M0.0 0.0L17.5 -17.0M0.0 0.0L-17.4 18.5M0.0 0.0L18.6 18.7M-10.0 0.0L0.0 0.0" stroke="#7fecec" stroke-width="7.1" stroke-linecap="butt" fill="none"/><path d="M-17.4 18.5L-34.8 37.1M18.6 18.7L37.2 37.4" stroke="#ff0d0d" stroke-width="7.1" stroke-linecap="butt" fill="none"/><path d="M14.5 0.0L0.0 0.0" stroke="#3f8c8c" stroke-width="7.1" stroke-linecap="butt" fill="none"/><path d="M0.0 0.0L-16.5 -17.0M0.0 0.0L17.5 -17.0M0.0 0.0L-17.4 18.5M0.0 0.0L18.6 18.7M-10.0 0.0L0.0 0.0" stroke="#a8fafa" stroke-width="1.8" stroke-linecap="butt" fill="none" transform="translate(-0.9 -0.9)"/><path d="M-17.4 18.5L-34.8 37.1M18.6 18.7L37.2 37.4" stroke="#ff4040" stroke-width="1.8" stroke-linecap="butt" fill="none" transform="translate(-0.9 -0.9)"/><path d="M14.5 0.0L0.0 0.0" stroke="#4a9a9a" stroke-width="1.8" stroke-linecap="butt" fill="none" transform="translate(-0.9 -0.9)"/></g><g id="hnB"><path d="M-132.8 0.0L-104.1 0.0M-54.9 0.0L-34.5 0.0M134.0 0.0L105.5 0.0M56.2 0.0L35.5 0.0M35.5 0.0L14.5 0.0M-75.9 -18.1L-76.4 -36.1M77.1 -18.1L77.2 -36.2" stroke="#c00000" stroke-width="8.9" stroke-linecap="butt" fill="none"/><path d="M-104.1 0.0L-75.3 0.0M-75.3 0.0L-54.9 0.0M105.5 0.0L77.0 0.0M77.0 0.0L56.2 0.0M-75.3 0.0L-75.9 -18.1M77.0 0.0L77.1 -18.1" stroke="#0a0a7c" stroke-width="8.9" stroke-linecap="butt" fill="none"/><path d="M-34.5 0.0L-10.0 0.0" stroke="#600000" stroke-width="8.9" stroke-linecap="butt" fill="none"/><path d="M-75.3 0.0L-75.3 19.0M77.0 0.0L77.0 19.0" stroke="#0a0a7c" stroke-width="8.9" stroke-linecap="round" fill="none"/><path d="M-132.8 0.0L-104.1 0.0M-54.9 0.0L-34.5 0.0M134.0 0.0L105.5 0.0M56.2 0.0L35.5 0.0M35.5 0.0L14.5 0.0M-75.9 -18.1L-76.4 -36.1M77.1 -18.1L77.2 -36.2" stroke="#ff0d0d" stroke-width="7.1" stroke-linecap="butt" fill="none"/><path d="M-104.1 0.0L-75.3 0.0M-75.3 0.0L-54.9 0.0M105.5 0.0L77.0 0.0M77.0 0.0L56.2 0.0M-75.3 0.0L-75.9 -18.1M77.0 0.0L77.1 -18.1" stroke="#1616ac" stroke-width="7.1" stroke-linecap="butt" fill="none"/><path d="M-34.5 0.0L-10.0 0.0" stroke="#9a0808" stroke-width="7.1" stroke-linecap="butt" fill="none"/><path d="M-75.3 0.0L-75.3 19.0M77.0 0.0L77.0 19.0" stroke="#1616ac" stroke-width="7.1" stroke-linecap="round" fill="none"/><path d="M-132.8 0.0L-104.1 0.0M-54.9 0.0L-34.5 0.0M134.0 0.0L105.5 0.0M56.2 0.0L35.5 0.0M35.5 0.0L14.5 0.0M-75.9 -18.1L-76.4 -36.1M77.1 -18.1L77.2 -36.2" stroke="#ff4040" stroke-width="1.8" stroke-linecap="butt" fill="none" transform="translate(-0.9 -0.9)"/><path d="M-104.1 0.0L-75.3 0.0M-75.3 0.0L-54.9 0.0M105.5 0.0L77.0 0.0M77.0 0.0L56.2 0.0M-75.3 0.0L-75.9 -18.1M77.0 0.0L77.1 -18.1" stroke="#3030cc" stroke-width="1.8" stroke-linecap="butt" fill="none" transform="translate(-0.9 -0.9)"/><path d="M-34.5 0.0L-10.0 0.0" stroke="#b01010" stroke-width="1.8" stroke-linecap="butt" fill="none" transform="translate(-0.9 -0.9)"/><path d="M-75.3 0.0L-75.3 19.0M77.0 0.0L77.0 19.0" stroke="#3030cc" stroke-width="1.8" stroke-linecap="round" fill="none" transform="translate(-0.9 -0.9)"/><circle cx="-132.8" cy="0.0" r="9.3" fill="url(#aO)"/><circle cx="134.0" cy="0.0" r="9.3" fill="url(#aO)"/><circle cx="-34.5" cy="0.0" r="9.3" fill="url(#aO)"/><circle cx="35.5" cy="0.0" r="9.3" fill="url(#aO)"/><circle cx="-75.3" cy="0.0" r="7.6" fill="url(#aN)"/><circle cx="77.0" cy="0.0" r="7.6" fill="url(#aN)"/><path d="M0.0 0.0L-17.3 -17.9M0.0 0.0L18.2 -17.7M0.0 0.0L-16.5 19.0M0.0 0.0L18.0 18.0M-10.0 0.0L0.0 0.0" stroke="#58b8b8" stroke-width="8.9" stroke-linecap="butt" fill="none"/><path d="M-17.3 -17.9L-34.6 -35.8M18.2 -17.7L36.5 -35.3" stroke="#c00000" stroke-width="8.9" stroke-linecap="butt" fill="none"/><path d="M14.5 0.0L0.0 0.0" stroke="#2c6a6a" stroke-width="8.9" stroke-linecap="butt" fill="none"/><path d="M0.0 0.0L-17.3 -17.9M0.0 0.0L18.2 -17.7M0.0 0.0L-16.5 19.0M0.0 0.0L18.0 18.0M-10.0 0.0L0.0 0.0" stroke="#7fecec" stroke-width="7.1" stroke-linecap="butt" fill="none"/><path d="M-17.3 -17.9L-34.6 -35.8M18.2 -17.7L36.5 -35.3" stroke="#ff0d0d" stroke-width="7.1" stroke-linecap="butt" fill="none"/><path d="M14.5 0.0L0.0 0.0" stroke="#3f8c8c" stroke-width="7.1" stroke-linecap="butt" fill="none"/><path d="M0.0 0.0L-17.3 -17.9M0.0 0.0L18.2 -17.7M0.0 0.0L-16.5 19.0M0.0 0.0L18.0 18.0M-10.0 0.0L0.0 0.0" stroke="#a8fafa" stroke-width="1.8" stroke-linecap="butt" fill="none" transform="translate(-0.9 -0.9)"/><path d="M-17.3 -17.9L-34.6 -35.8M18.2 -17.7L36.5 -35.3" stroke="#ff4040" stroke-width="1.8" stroke-linecap="butt" fill="none" transform="translate(-0.9 -0.9)"/><path d="M14.5 0.0L0.0 0.0" stroke="#4a9a9a" stroke-width="1.8" stroke-linecap="butt" fill="none" transform="translate(-0.9 -0.9)"/></g><g id="vn"><path d="M0.0 -115.0L0.0 -80.9M0.0 112.0L0.0 78.4M0.0 0.0L0.0 -23.9M0.0 0.0L0.0 21.4M-17.9 -64.8L-35.8 -76.6M-17.5 -17.9L-35.0 -35.9M-17.2 18.6L-34.5 37.2M-17.4 63.0L-34.7 74.9M18.4 -64.9L36.7 -76.8M18.2 -18.0L36.4 -36.0M19.0 18.5L38.0 37.1M18.3 63.9L36.7 76.8" stroke="#c00000" stroke-width="8.9" stroke-linecap="butt" fill="none"/><path d="M0.0 -80.9L0.0 -53.0M0.0 78.4L0.0 51.0M0.0 -23.9L0.0 -53.0M0.0 21.4L0.0 51.0M0.0 -53.0L-17.9 -64.8M0.0 51.0L-17.4 63.0M0.0 -53.0L18.4 -64.9M0.0 51.0L18.3 63.9" stroke="#58b8b8" stroke-width="8.9" stroke-linecap="butt" fill="none"/><path d="M0.0 0.0L-17.5 -17.9M0.0 0.0L-17.2 18.6M0.0 0.0L18.2 -18.0M0.0 0.0L19.0 18.5" stroke="#0a0a7c" stroke-width="8.9" stroke-linecap="butt" fill="none"/><path d="M0.0 -115.0L0.0 -80.9M0.0 112.0L0.0 78.4M0.0 0.0L0.0 -23.9M0.0 0.0L0.0 21.4M-17.9 -64.8L-35.8 -76.6M-17.5 -17.9L-35.0 -35.9M-17.2 18.6L-34.5 37.2M-17.4 63.0L-34.7 74.9M18.4 -64.9L36.7 -76.8M18.2 -18.0L36.4 -36.0M19.0 18.5L38.0 37.1M18.3 63.9L36.7 76.8" stroke="#ff0d0d" stroke-width="7.1" stroke-linecap="butt" fill="none"/><path d="M0.0 -80.9L0.0 -53.0M0.0 78.4L0.0 51.0M0.0 -23.9L0.0 -53.0M0.0 21.4L0.0 51.0M0.0 -53.0L-17.9 -64.8M0.0 51.0L-17.4 63.0M0.0 -53.0L18.4 -64.9M0.0 51.0L18.3 63.9" stroke="#7fecec" stroke-width="7.1" stroke-linecap="butt" fill="none"/><path d="M0.0 0.0L-17.5 -17.9M0.0 0.0L-17.2 18.6M0.0 0.0L18.2 -18.0M0.0 0.0L19.0 18.5" stroke="#1616ac" stroke-width="7.1" stroke-linecap="butt" fill="none"/><path d="M0.0 -115.0L0.0 -80.9M0.0 112.0L0.0 78.4M0.0 0.0L0.0 -23.9M0.0 0.0L0.0 21.4M-17.9 -64.8L-35.8 -76.6M-17.5 -17.9L-35.0 -35.9M-17.2 18.6L-34.5 37.2M-17.4 63.0L-34.7 74.9M18.4 -64.9L36.7 -76.8M18.2 -18.0L36.4 -36.0M19.0 18.5L38.0 37.1M18.3 63.9L36.7 76.8" stroke="#ff4040" stroke-width="1.8" stroke-linecap="butt" fill="none" transform="translate(-0.9 -0.9)"/><path d="M0.0 -80.9L0.0 -53.0M0.0 78.4L0.0 51.0M0.0 -23.9L0.0 -53.0M0.0 21.4L0.0 51.0M0.0 -53.0L-17.9 -64.8M0.0 51.0L-17.4 63.0M0.0 -53.0L18.4 -64.9M0.0 51.0L18.3 63.9" stroke="#a8fafa" stroke-width="1.8" stroke-linecap="butt" fill="none" transform="translate(-0.9 -0.9)"/><path d="M0.0 0.0L-17.5 -17.9M0.0 0.0L-17.2 18.6M0.0 0.0L18.2 -18.0M0.0 0.0L19.0 18.5" stroke="#3030cc" stroke-width="1.8" stroke-linecap="butt" fill="none" transform="translate(-0.9 -0.9)"/><circle cx="0.0" cy="-115.0" r="9.3" fill="url(#aO)"/><circle cx="0.0" cy="112.0" r="9.3" fill="url(#aO)"/><path d="M0.0 0.0L0.0 -24.0M0.0 0.0L0.0 21.0" stroke="#c00000" stroke-width="8.9" stroke-linecap="butt" fill="none"/><path d="M0.0 0.0L0.0 -24.0M0.0 0.0L0.0 21.0" stroke="#ff0d0d" stroke-width="7.1" stroke-linecap="butt" fill="none"/><path d="M0.0 0.0L0.0 -24.0M0.0 0.0L0.0 21.0" stroke="#ff4040" stroke-width="1.8" stroke-linecap="butt" fill="none" transform="translate(-0.9 -0.9)"/><circle cx="0" cy="0" r="8.9" fill="url(#aO)"/></g><g id="vnL"><path d="M0.0 -115.0L0.0 -80.9M0.0 112.0L0.0 78.4M0.0 0.0L0.0 -23.9M0.0 0.0L0.0 21.4M18.4 -64.9L36.7 -76.8M18.2 -18.0L36.4 -36.0M19.0 18.5L38.0 37.1M18.3 63.9L36.7 76.8" stroke="#c00000" stroke-width="8.9" stroke-linecap="butt" fill="none"/><path d="M0.0 -80.9L0.0 -53.0M0.0 78.4L0.0 51.0M0.0 -23.9L0.0 -53.0M0.0 21.4L0.0 51.0M0.0 -53.0L-19.0 -62.5M0.0 51.0L-19.0 61.5M0.0 -53.0L18.4 -64.9M0.0 51.0L18.3 63.9" stroke="#58b8b8" stroke-width="8.9" stroke-linecap="butt" fill="none"/><path d="M0.0 0.0L-17.5 -16.0M0.0 0.0L-17.5 17.0M0.0 0.0L18.2 -18.0M0.0 0.0L19.0 18.5" stroke="#0a0a7c" stroke-width="8.9" stroke-linecap="butt" fill="none"/><path d="M0.0 -115.0L0.0 -80.9M0.0 112.0L0.0 78.4M0.0 0.0L0.0 -23.9M0.0 0.0L0.0 21.4M18.4 -64.9L36.7 -76.8M18.2 -18.0L36.4 -36.0M19.0 18.5L38.0 37.1M18.3 63.9L36.7 76.8" stroke="#ff0d0d" stroke-width="7.1" stroke-linecap="butt" fill="none"/><path d="M0.0 -80.9L0.0 -53.0M0.0 78.4L0.0 51.0M0.0 -23.9L0.0 -53.0M0.0 21.4L0.0 51.0M0.0 -53.0L-19.0 -62.5M0.0 51.0L-19.0 61.5M0.0 -53.0L18.4 -64.9M0.0 51.0L18.3 63.9" stroke="#7fecec" stroke-width="7.1" stroke-linecap="butt" fill="none"/><path d="M0.0 0.0L-17.5 -16.0M0.0 0.0L-17.5 17.0M0.0 0.0L18.2 -18.0M0.0 0.0L19.0 18.5" stroke="#1616ac" stroke-width="7.1" stroke-linecap="butt" fill="none"/><path d="M0.0 -115.0L0.0 -80.9M0.0 112.0L0.0 78.4M0.0 0.0L0.0 -23.9M0.0 0.0L0.0 21.4M18.4 -64.9L36.7 -76.8M18.2 -18.0L36.4 -36.0M19.0 18.5L38.0 37.1M18.3 63.9L36.7 76.8" stroke="#ff4040" stroke-width="1.8" stroke-linecap="butt" fill="none" transform="translate(-0.9 -0.9)"/><path d="M0.0 -80.9L0.0 -53.0M0.0 78.4L0.0 51.0M0.0 -23.9L0.0 -53.0M0.0 21.4L0.0 51.0M0.0 -53.0L-19.0 -62.5M0.0 51.0L-19.0 61.5M0.0 -53.0L18.4 -64.9M0.0 51.0L18.3 63.9" stroke="#a8fafa" stroke-width="1.8" stroke-linecap="butt" fill="none" transform="translate(-0.9 -0.9)"/><path d="M0.0 0.0L-17.5 -16.0M0.0 0.0L-17.5 17.0M0.0 0.0L18.2 -18.0M0.0 0.0L19.0 18.5" stroke="#3030cc" stroke-width="1.8" stroke-linecap="butt" fill="none" transform="translate(-0.9 -0.9)"/><circle cx="0.0" cy="-115.0" r="9.3" fill="url(#aO)"/><circle cx="0.0" cy="112.0" r="9.3" fill="url(#aO)"/><path d="M0.0 0.0L0.0 -24.0M0.0 0.0L0.0 21.0" stroke="#c00000" stroke-width="8.9" stroke-linecap="butt" fill="none"/><path d="M0.0 0.0L0.0 -24.0M0.0 0.0L0.0 21.0" stroke="#ff0d0d" stroke-width="7.1" stroke-linecap="butt" fill="none"/><path d="M0.0 0.0L0.0 -24.0M0.0 0.0L0.0 21.0" stroke="#ff4040" stroke-width="1.8" stroke-linecap="butt" fill="none" transform="translate(-0.9 -0.9)"/><circle cx="0" cy="0" r="8.9" fill="url(#aO)"/></g><g id="vnR"><path d="M0.0 -115.0L0.0 -80.9M0.0 112.0L0.0 78.4M0.0 0.0L0.0 -23.9M0.0 0.0L0.0 21.4M-17.9 -64.8L-35.8 -76.6M-17.5 -17.9L-35.0 -35.9M-17.2 18.6L-34.5 37.2M-17.4 63.0L-34.7 74.9" stroke="#c00000" stroke-width="8.9" stroke-linecap="butt" fill="none"/><path d="M0.0 -80.9L0.0 -53.0M0.0 78.4L0.0 51.0M0.0 -23.9L0.0 -53.0M0.0 21.4L0.0 51.0M0.0 -53.0L-17.9 -64.8M0.0 51.0L-17.4 63.0M0.0 -53.0L19.0 -62.5M0.0 51.0L19.0 61.5" stroke="#58b8b8" stroke-width="8.9" stroke-linecap="butt" fill="none"/><path d="M0.0 0.0L-17.5 -17.9M0.0 0.0L-17.2 18.6M0.0 0.0L18.0 -16.5M0.0 0.0L18.0 17.0" stroke="#0a0a7c" stroke-width="8.9" stroke-linecap="butt" fill="none"/><path d="M0.0 -115.0L0.0 -80.9M0.0 112.0L0.0 78.4M0.0 0.0L0.0 -23.9M0.0 0.0L0.0 21.4M-17.9 -64.8L-35.8 -76.6M-17.5 -17.9L-35.0 -35.9M-17.2 18.6L-34.5 37.2M-17.4 63.0L-34.7 74.9" stroke="#ff0d0d" stroke-width="7.1" stroke-linecap="butt" fill="none"/><path d="M0.0 -80.9L0.0 -53.0M0.0 78.4L0.0 51.0M0.0 -23.9L0.0 -53.0M0.0 21.4L0.0 51.0M0.0 -53.0L-17.9 -64.8M0.0 51.0L-17.4 63.0M0.0 -53.0L19.0 -62.5M0.0 51.0L19.0 61.5" stroke="#7fecec" stroke-width="7.1" stroke-linecap="butt" fill="none"/><path d="M0.0 0.0L-17.5 -17.9M0.0 0.0L-17.2 18.6M0.0 0.0L18.0 -16.5M0.0 0.0L18.0 17.0" stroke="#1616ac" stroke-width="7.1" stroke-linecap="butt" fill="none"/><path d="M0.0 -115.0L0.0 -80.9M0.0 112.0L0.0 78.4M0.0 0.0L0.0 -23.9M0.0 0.0L0.0 21.4M-17.9 -64.8L-35.8 -76.6M-17.5 -17.9L-35.0 -35.9M-17.2 18.6L-34.5 37.2M-17.4 63.0L-34.7 74.9" stroke="#ff4040" stroke-width="1.8" stroke-linecap="butt" fill="none" transform="translate(-0.9 -0.9)"/><path d="M0.0 -80.9L0.0 -53.0M0.0 78.4L0.0 51.0M0.0 -23.9L0.0 -53.0M0.0 21.4L0.0 51.0M0.0 -53.0L-17.9 -64.8M0.0 51.0L-17.4 63.0M0.0 -53.0L19.0 -62.5M0.0 51.0L19.0 61.5" stroke="#a8fafa" stroke-width="1.8" stroke-linecap="butt" fill="none" transform="translate(-0.9 -0.9)"/><path d="M0.0 0.0L-17.5 -17.9M0.0 0.0L-17.2 18.6M0.0 0.0L18.0 -16.5M0.0 0.0L18.0 17.0" stroke="#3030cc" stroke-width="1.8" stroke-linecap="butt" fill="none" transform="translate(-0.9 -0.9)"/><circle cx="0.0" cy="-115.0" r="9.3" fill="url(#aO)"/><circle cx="0.0" cy="112.0" r="9.3" fill="url(#aO)"/><path d="M0.0 0.0L0.0 -24.0M0.0 0.0L0.0 21.0" stroke="#c00000" stroke-width="8.9" stroke-linecap="butt" fill="none"/><path d="M0.0 0.0L0.0 -24.0M0.0 0.0L0.0 21.0" stroke="#ff0d0d" stroke-width="7.1" stroke-linecap="butt" fill="none"/><path d="M0.0 0.0L0.0 -24.0M0.0 0.0L0.0 21.0" stroke="#ff4040" stroke-width="1.8" stroke-linecap="butt" fill="none" transform="translate(-0.9 -0.9)"/><circle cx="0" cy="0" r="8.9" fill="url(#aO)"/></g></defs><use href="#hnT" x="0.0" y="-196.1"/><use href="#hn" x="0.0" y="196.1"/><use href="#hnB" x="0.0" y="588.3"/><use href="#hnT" x="392.2" y="-196.1"/><use href="#hn" x="392.2" y="196.1"/><use href="#hnB" x="392.2" y="588.3"/><use href="#vnL" x="-196.1" y="0.0"/><use href="#vn" x="196.1" y="0.0"/><use href="#vnR" x="588.3" y="0.0"/><use href="#vnL" x="-196.1" y="392.2"/><use href="#vn" x="196.1" y="392.2"/><use href="#vnR" x="588.3" y="392.2"/><use href="#cell" x="0.0" y="0.0"/><use href="#cell" x="0.0" y="392.2"/><use href="#cell" x="392.2" y="0.0"/><use href="#cell" x="392.2" y="392.2"/></g>
<g font-family="'Liberation Sans',sans-serif" font-weight="700" fill="#000"><path d="M2103.5 1002.0C2108.5 1002.0 2126.6 1002.3 2133.5 1002.0C2140.4 1001.7 2139.8 1002.3 2145.0 1000.1C2150.2 997.9 2158.1 998.5 2164.5 988.8C2170.9 979.0 2178.1 960.1 2183.5 941.5C2188.9 922.9 2192.6 903.0 2197.0 877.1C2201.4 851.3 2205.7 818.7 2210.0 786.3C2214.3 753.9 2218.8 717.2 2223.0 682.9C2227.2 648.5 2231.2 612.3 2235.5 580.1C2239.8 547.8 2244.2 513.5 2248.5 489.2C2252.8 465.0 2257.7 446.0 2261.5 434.4C2265.3 422.7 2267.8 421.8 2271.5 419.2C2275.2 416.7 2277.3 417.5 2283.5 419.2C2289.7 421.0 2300.2 424.2 2308.5 430.0C2316.8 435.7 2326.8 443.6 2333.5 453.9C2340.2 464.2 2343.2 479.7 2348.5 491.8C2353.8 503.9 2359.7 516.6 2365.5 526.5C2371.3 536.3 2376.3 542.6 2383.5 551.1C2390.7 559.5 2396.8 567.2 2408.5 576.9C2420.2 586.6 2439.3 600.1 2453.5 609.1C2467.7 618.0 2480.2 624.2 2493.5 630.5C2506.8 636.8 2518.5 642.0 2533.5 646.9C2548.5 651.9 2566.8 656.3 2583.5 660.2C2600.2 664.1 2616.8 667.4 2633.5 670.3C2650.2 673.1 2666.8 675.1 2683.5 677.2C2700.2 679.3 2725.2 681.9 2733.5 682.9" fill="none" stroke="#0000ff" stroke-width="4.9" stroke-linejoin="round"/><circle cx="1983.5" cy="1003.9" r="11.2" fill="url(#mB)"/><circle cx="2033.5" cy="1003.9" r="11.2" fill="url(#mB)"/><circle cx="2083.5" cy="1003.9" r="11.2" fill="url(#mB)"/><circle cx="2133.5" cy="1003.9" r="11.2" fill="url(#mB)"/><circle cx="2183.5" cy="994.4" r="11.2" fill="url(#mB)"/><circle cx="2258.5" cy="415.5" r="11.2" fill="url(#mB)"/><circle cx="2283.5" cy="420.5" r="11.2" fill="url(#mB)"/><circle cx="2308.5" cy="429.3" r="11.2" fill="url(#mB)"/><circle cx="2333.5" cy="452.7" r="11.2" fill="url(#mB)"/><circle cx="2383.5" cy="577.5" r="11.2" fill="url(#mB)"/><circle cx="2533.5" cy="646.9" r="11.2" fill="url(#mB)"/><circle cx="2633.5" cy="669.6" r="11.2" fill="url(#mB)"/><circle cx="2733.5" cy="681.6" r="11.2" fill="url(#mB)"/><path d="M1883.5 1003.9C1908.5 1003.9 1983.5 1003.9 2033.5 1003.9C2083.5 1003.9 2143.5 1003.9 2183.5 1003.9C2223.5 1003.9 2256.8 1004.1 2273.5 1003.9C2290.2 1003.7 2280.2 1003.9 2283.5 1002.6C2286.8 1001.4 2289.3 1000.3 2293.5 996.3C2297.7 992.3 2303.5 986.8 2308.5 978.7C2313.5 970.6 2319.3 956.9 2323.5 947.8C2327.7 938.6 2329.5 934.2 2333.5 923.8C2337.5 913.4 2342.8 897.1 2347.5 885.3C2352.2 873.6 2355.0 864.7 2361.5 853.2C2368.0 841.6 2376.2 827.5 2386.5 816.0C2396.8 804.4 2409.1 793.9 2423.5 783.8C2437.9 773.7 2454.7 764.4 2473.0 755.4C2491.3 746.4 2515.1 736.0 2533.5 729.5C2551.9 723.1 2566.8 720.7 2583.5 716.9C2600.2 713.1 2616.8 709.7 2633.5 706.8C2650.2 703.9 2666.8 701.8 2683.5 699.6C2700.2 697.4 2725.2 694.6 2733.5 693.6" fill="none" stroke="#ff0000" stroke-width="4.9" stroke-linejoin="round"/><circle cx="1983.5" cy="1003.9" r="11.2" fill="url(#mR)"/><circle cx="2033.5" cy="1003.9" r="11.2" fill="url(#mR)"/><circle cx="2083.5" cy="1003.9" r="11.2" fill="url(#mR)"/><circle cx="2133.5" cy="1003.9" r="11.2" fill="url(#mR)"/><circle cx="2183.5" cy="1003.9" r="11.2" fill="url(#mR)"/><circle cx="2258.5" cy="1003.9" r="11.2" fill="url(#mR)"/><circle cx="2283.5" cy="1003.9" r="11.2" fill="url(#mR)"/><circle cx="2308.5" cy="979.3" r="11.2" fill="url(#mR)"/><circle cx="2333.5" cy="923.8" r="11.2" fill="url(#mR)"/><circle cx="2383.5" cy="798.9" r="11.2" fill="url(#mR)"/><circle cx="2533.5" cy="729.5" r="11.2" fill="url(#mR)"/><circle cx="2633.5" cy="706.2" r="11.2" fill="url(#mR)"/><circle cx="2733.5" cy="693.6" r="11.2" fill="url(#mR)"/><rect x="1883.8" y="341.6" width="949.7" height="693.8" fill="none" stroke="#000" stroke-width="5"/><path d="M1881.3 1003.9H1867.6M1881.3 877.8H1867.6M1881.3 751.6H1867.6M1881.3 625.5H1867.6M1881.3 499.3H1867.6M1881.3 373.2H1867.6M1881.3 940.8H1874.3M1881.3 814.7H1874.3M1881.3 688.5H1874.3M1881.3 562.4H1874.3M1881.3 436.3H1874.3M2033.5 1037.9V1051.7M2283.5 1037.9V1051.7M2533.5 1037.9V1051.7M2783.5 1037.9V1051.7M1908.5 1037.9V1044.4M2158.5 1037.9V1044.4M2408.5 1037.9V1044.4M2658.5 1037.9V1044.4" stroke="#000" stroke-width="4.8" fill="none"/><text x="1860" y="1013.8" font-size="41" text-anchor="end">0</text><text x="1860" y="887.7" font-size="41" text-anchor="end">20</text><text x="1860" y="761.5" font-size="41" text-anchor="end">40</text><text x="1860" y="635.4" font-size="41" text-anchor="end">60</text><text x="1860" y="509.2" font-size="41" text-anchor="end">80</text><text x="1860" y="383.1" font-size="41" text-anchor="end">100</text><text x="2033.5" y="1090.4" font-size="41" text-anchor="middle">30</text><text x="2283.5" y="1090.4" font-size="41" text-anchor="middle">35</text><text x="2533.5" y="1090.4" font-size="41" text-anchor="middle">40</text><text x="2783.5" y="1090.4" font-size="41" text-anchor="middle">45</text><text x="2369.5" y="1141.7" font-size="44.3" text-anchor="middle">Time (min)</text><text transform="translate(1764 688.2) rotate(-90)" font-size="44.4" text-anchor="middle">Outlet concentration(mol %)</text><path d="M2535.5 504.5H2619.2" stroke="#0000ff" stroke-width="5.2" stroke-linecap="round"/><circle cx="2577.5" cy="504.5" r="11.4" fill="url(#mB)"/><path d="M2535.5 574.4H2619.2" stroke="#ff0000" stroke-width="5.2" stroke-linecap="round"/><circle cx="2577.5" cy="574.4" r="11.4" fill="url(#mR)"/><text x="2629" y="515.1" font-size="43.5"><tspan dy="0">C</tspan><tspan dy="14.6">2</tspan><tspan dy="-14.6">H</tspan><tspan dy="14.6">4</tspan></text><text x="2631" y="586.3" font-size="43.5"><tspan dy="0">C</tspan><tspan dy="14.6">2</tspan><tspan dy="-14.6">H</tspan><tspan dy="14.6">6</tspan></text><text x="2352" y="944.9" font-size="44"><tspan dy="0">(C</tspan><tspan dy="16.3">2</tspan><tspan dy="-16.3">H</tspan><tspan dy="16.3">6</tspan><tspan dy="-16.3">:C</tspan><tspan dy="16.3">2</tspan><tspan dy="-16.3">H</tspan><tspan dy="16.3">4</tspan><tspan dy="-16.3">=1:1</tspan><tspan x="2697" font-family="'Liberation Sans','Noto Sans CJK SC',sans-serif">，</tspan><tspan x="2746.5">v/v)</tspan></text></g><g filter="url(#blur2)"><circle cx="2190.8" cy="427.5" r="15.7" fill="url(#sB)"/><circle cx="2212.7" cy="427.0" r="15.7" fill="url(#sB)"/><clipPath id="ce0"><path d="M2217.0 395.0L2151.0 440.2L2128.4 407.2L2194.4 362.0"/></clipPath><g clip-path="url(#ce0)"><circle cx="2182.3" cy="415.1" r="10.6" fill="url(#sH)"/></g><clipPath id="ce1"><path d="M2253.7 434.5L2182.3 398.5L2200.3 362.8L2271.7 398.8"/></clipPath><g clip-path="url(#ce1)"><circle cx="2218.9" cy="414.7" r="10.6" fill="url(#sH)"/></g><clipPath id="ce2"><path d="M2149.9 419.0L2220.1 457.3L2201.0 492.4L2130.8 454.2"/></clipPath><g clip-path="url(#ce2)"><circle cx="2182.8" cy="442.2" r="11.0" fill="url(#sH)"/></g><clipPath id="ce3"><path d="M2179.9 452.7L2254.2 423.1L2269.0 460.3L2194.7 489.9"/></clipPath><g clip-path="url(#ce3)"><circle cx="2218.4" cy="441.3" r="11.0" fill="url(#sH)"/></g><circle cx="2357.9" cy="972.3" r="11.4" fill="url(#sH)"/><circle cx="2395.9" cy="971.3" r="11.9" fill="url(#sH)"/><circle cx="2359.8" cy="1006.5" r="12.0" fill="url(#sH)"/><circle cx="2395.9" cy="1006.5" r="12.3" fill="url(#sH)"/><circle cx="2366.5" cy="987.5" r="17.6" fill="url(#sR)"/><circle cx="2391.2" cy="987.5" r="17.6" fill="url(#sR)"/><circle cx="2361.7" cy="984.6" r="12.8" fill="url(#sH)"/><circle cx="2397.8" cy="984.2" r="12.8" fill="url(#sH)"/></g>
</svg>
</body></html>
